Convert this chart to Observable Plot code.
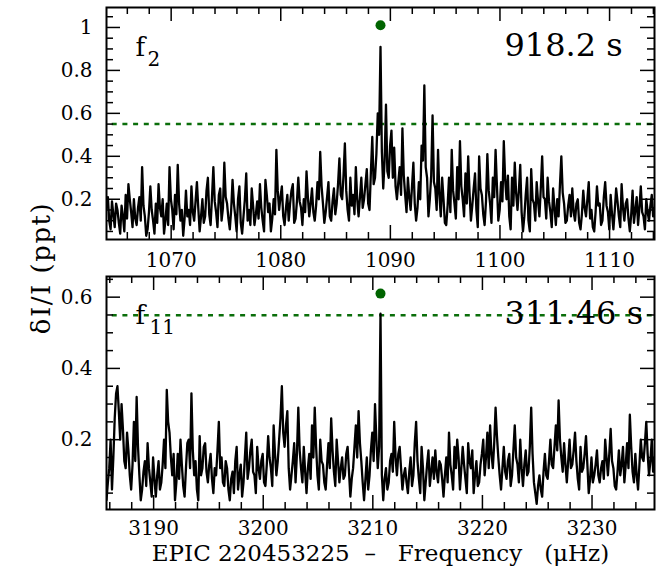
<!DOCTYPE html>
<html><head><meta charset="utf-8">
<script src="https://cdn.jsdelivr.net/npm/d3@7"></script>
<script src="https://cdn.jsdelivr.net/npm/@observablehq/plot@0.6"></script>
<style>
body{margin:0;background:#fff;}
#wrap{position:relative;width:668px;height:576px;font-family:"DejaVu Serif";color:#000;}
#p1,#p2{position:absolute;left:0;}
#p1{top:0}
#p2{top:270px}
#ylab{position:absolute;left:41px;top:268px;transform:translate(-50%,-50%) rotate(-90deg);font-size:26px;letter-spacing:1.5px;white-space:pre;}
</style></head><body>
<div id="wrap"><div id="p1"></div><div id="p2"></div><div id="ylab"></div></div>
<script>
// ---- data ----
const yTitle = "δI/I\u00a0(ppt)";
const xTitle = "EPIC 220453225\u00a0\u00a0–\u00a0\u00a0\u00a0Frequency\u00a0\u00a0\u00a0(μHz)";
const modeName = ["f", "f"];
const modeSub = ["2", "11"];
const periodLabel = ["918.2 s", "311.46 s"];
const freqStep = 0.125;
const freqStart = [1064.1, 3185.7];
const xDomain = [[1064.1, 1114.1], [3185.7, 3235.7]];
const yDomain = [[0.0125, 1.093], [0.004, 0.658]];
const threshold = [0.551, 0.549];
const peakFreq = [1089.1, 3210.7];
const peakMark = [1.01, 0.61];

const ampTop = [
0.16,0.21,0.10,0.06,0.19,0.13,0.07,0.18,0.15,0.09,0.04,0.17,0.12,0.05,0.22,0.11,0.27,0.20,0.14,0.07,
0.20,0.11,0.08,0.16,0.21,0.10,0.35,0.17,0.12,0.03,0.06,0.14,0.26,0.15,0.10,0.04,0.18,0.09,0.27,0.16,
0.12,0.20,0.04,0.10,0.18,0.08,0.35,0.20,0.15,0.06,0.22,0.13,0.36,0.18,0.10,0.15,0.03,0.11,0.24,0.12,
0.15,0.08,0.26,0.14,0.10,0.19,0.28,0.16,0.05,0.12,0.20,0.09,0.12,0.24,0.30,0.13,0.08,0.21,0.35,0.19,
0.14,0.07,0.22,0.25,0.10,0.16,0.37,0.21,0.18,0.11,0.06,0.15,0.29,0.18,0.12,0.05,0.20,0.26,0.09,0.04,
0.12,0.20,0.32,0.10,0.15,0.08,0.25,0.17,0.08,0.13,0.19,0.11,0.27,0.16,0.10,0.05,0.29,0.22,0.14,0.18,
0.05,0.11,0.20,0.13,0.43,0.24,0.15,0.21,0.26,0.12,0.08,0.16,0.22,0.10,0.18,0.24,0.27,0.09,0.11,0.19,
0.30,0.19,0.16,0.08,0.20,0.14,0.33,0.21,0.12,0.18,0.25,0.14,0.10,0.17,0.28,0.20,0.42,0.26,0.18,0.09,
0.14,0.21,0.28,0.12,0.10,0.19,0.25,0.13,0.18,0.27,0.39,0.22,0.20,0.31,0.46,0.24,0.15,0.10,0.30,0.17,
0.22,0.13,0.35,0.20,0.12,0.21,0.30,0.16,0.20,0.27,0.34,0.18,0.15,0.33,0.49,0.27,0.30,0.41,0.60,0.50,
0.91,0.42,
0.25,0.38,0.64,0.33,0.30,0.45,0.52,0.30,0.44,0.26,0.20,0.28,0.35,0.22,0.53,0.31,0.22,0.14,
0.30,0.21,0.15,0.26,0.37,0.18,0.10,0.16,0.28,0.20,0.45,0.38,0.73,0.35,0.30,0.12,0.20,0.31,0.59,0.28,
0.25,0.15,0.43,0.22,0.12,0.30,0.20,0.09,0.08,0.17,0.30,0.14,0.43,0.24,0.18,0.11,0.35,0.20,0.47,0.26,
0.20,0.12,0.32,0.18,0.40,0.23,0.10,0.17,0.25,0.32,0.15,0.07,0.40,0.25,0.22,0.13,0.08,0.19,0.41,0.24,
0.18,0.09,0.30,0.21,0.43,0.26,0.10,0.15,0.28,0.19,0.47,0.29,0.20,0.31,0.12,0.06,0.30,0.17,0.37,0.23,
0.15,0.24,0.36,0.14,0.05,0.12,0.22,0.30,0.10,0.05,0.34,0.20,0.18,0.10,0.28,0.19,0.12,0.25,0.40,0.21,
0.20,0.11,0.30,0.19,0.14,0.07,0.25,0.16,0.08,0.20,0.12,0.27,0.40,0.23,0.18,0.09,0.10,0.17,0.22,0.12,
0.25,0.14,0.10,0.18,0.20,0.09,0.06,0.13,0.24,0.16,0.12,0.20,0.28,0.11,0.15,0.07,0.05,0.14,0.26,0.17,
0.18,0.08,0.10,0.21,0.28,0.17,0.14,0.06,0.22,0.13,0.06,0.15,0.25,0.19,0.12,0.07,0.27,0.16,0.10,0.18,
0.20,0.11,0.05,0.13,0.24,0.09,0.15,0.21,0.08,0.16,0.26,0.14,0.12,0.06,0.20,0.14,0.10,0.17,0.22,0.12,
0.16
];
const ampBottom = [
0.03,0.08,0.12,0.20,0.06,0.15,0.26,0.33,0.35,0.28,0.20,0.30,0.23,0.14,0.12,0.22,0.17,0.10,0.06,0.13,
0.25,0.14,0.32,0.18,0.10,0.03,0.06,0.11,0.14,0.07,0.19,0.12,0.08,0.04,0.15,0.09,0.04,0.10,0.14,0.06,
0.08,0.13,0.20,0.12,0.34,0.25,0.22,0.15,0.10,0.16,0.03,0.08,0.16,0.09,0.20,0.13,0.07,0.04,0.12,0.19,
0.20,0.12,0.33,0.17,0.10,0.14,0.06,0.03,0.21,0.10,0.12,0.18,0.19,0.11,0.08,0.13,0.16,0.09,0.05,0.12,
0.10,0.17,0.25,0.12,0.15,0.08,0.07,0.14,0.12,0.06,0.03,0.09,0.11,0.05,0.14,0.18,0.06,0.10,0.13,0.04,
0.08,0.15,0.22,0.09,0.12,0.17,0.20,0.11,0.10,0.05,0.18,0.12,0.09,0.14,0.16,0.08,0.07,0.13,0.21,0.15,
0.12,0.07,0.24,0.16,0.10,0.14,0.20,0.26,0.35,0.22,0.18,0.24,0.28,0.12,0.06,0.10,0.14,0.19,0.08,0.16,
0.29,0.17,0.12,0.08,0.18,0.11,0.05,0.12,0.16,0.09,0.24,0.15,0.29,0.18,0.10,0.06,0.20,0.14,0.13,0.08,
0.06,0.13,0.19,0.12,0.26,0.17,0.11,0.07,0.20,0.14,0.08,0.12,0.15,0.09,0.10,0.16,0.18,0.11,0.04,0.09,
0.12,0.18,0.24,0.15,0.28,0.19,0.14,0.08,0.03,0.09,0.15,0.06,0.10,0.17,0.22,0.14,0.30,0.20,0.12,0.18,
0.554,0.10,
0.03,0.09,0.12,0.06,0.08,0.14,0.16,0.11,0.25,0.15,0.10,0.16,0.18,0.12,0.06,0.10,0.12,0.08,
0.05,0.11,0.15,0.07,0.10,0.19,0.25,0.14,0.09,0.05,0.18,0.12,0.03,0.08,0.13,0.17,0.07,0.11,0.15,0.09,
0.17,0.11,0.08,0.14,0.13,0.09,0.04,0.10,0.15,0.08,0.22,0.13,0.10,0.06,0.18,0.12,0.20,0.15,0.06,0.12,
0.18,0.13,0.09,0.05,0.19,0.14,0.12,0.17,0.05,0.10,0.14,0.07,0.08,0.13,0.16,0.20,0.10,0.15,0.22,0.12,
0.24,0.16,0.12,0.19,0.29,0.21,0.15,0.10,0.06,0.12,0.18,0.11,0.09,0.14,0.16,0.07,0.10,0.17,0.24,0.15,
0.13,0.08,0.20,0.12,0.07,0.13,0.17,0.10,0.11,0.18,0.29,0.16,0.08,0.05,0.02,0.07,0.10,0.06,0.04,0.11,
0.16,0.10,0.09,0.14,0.20,0.13,0.12,0.18,0.24,0.17,0.31,0.20,0.15,0.11,0.19,0.13,0.08,0.14,0.20,0.12,
0.13,0.17,0.22,0.14,0.09,0.06,0.18,0.11,0.12,0.16,0.21,0.13,0.05,0.09,0.15,0.08,0.10,0.13,0.17,0.10,
0.08,0.12,0.14,0.09,0.20,0.15,0.10,0.16,0.23,0.14,0.12,0.07,0.06,0.11,0.17,0.10,0.13,0.18,0.08,0.13,
0.19,0.12,0.27,0.18,0.11,0.08,0.16,0.10,0.06,0.13,0.20,0.15,0.14,0.19,0.25,0.16,0.10,0.14,0.20,0.11,
0.15
];

const xMajor = [[1070,1080,1090,1100,1110],[3190,3200,3210,3220,3230]];
const xMinor = [
 [1066,1068,1072,1074,1076,1078,1082,1084,1086,1088,1092,1094,1096,1098,1102,1104,1106,1108,1112,1114],
 [3186,3188,3192,3194,3196,3198,3202,3204,3206,3208,3212,3214,3216,3218,3222,3224,3226,3228,3232,3234]
];
const yMajor = [[0.2,0.4,0.6,0.8,1],[0.2,0.4,0.6]];
const yMinor = [
 [0.05,0.1,0.15,0.25,0.3,0.35,0.45,0.5,0.55,0.65,0.7,0.75,0.85,0.9,0.95,1.05],
 [0.05,0.1,0.15,0.25,0.3,0.35,0.45,0.5,0.55,0.65]
];

// ---- drawing ----
const green = "#0a6e0a";
const dotGreen = "#006400";
const W = 668, ML = 106, MR = 14;
function panel(k, amps, height, mTop, mBottom, labelPad, extra) {
  const series = amps.map((a, i) => ({f: freqStart[k] + i * freqStep, a}));
  const [y0, y1] = yDomain[k];
  const fh = height - mTop - mBottom;
  const yLen = px => y0 + px * (y1 - y0) / fh;       // tick length in pixels -> data units from the bottom edge
  const yLenTop = px => y1 - px * (y1 - y0) / fh;
  const tk = {stroke: "black", strokeWidth: 1.5};
  const ticks = (xs, ys, len) => [
    Plot.ruleX(xs, {...tk, x: d => d, y1: y0, y2: yLen(len)}),
    Plot.ruleX(xs, {...tk, x: d => d, y1: yLenTop(len), y2: y1}),
    Plot.tickY(ys, {...tk, y: d => d, insetRight: W - ML - MR - len}),
    Plot.tickY(ys, {...tk, y: d => d, insetLeft: W - ML - MR - len})
  ];
  const marks = [
    Plot.ruleY([threshold[k]], {stroke: green, strokeWidth: 2.5, strokeDasharray: "5,5.7", strokeDashoffset: 5}),
    Plot.line(series, {x: "f", y: "a", stroke: "black", strokeWidth: 2.3, clip: true}),
    Plot.dot([{f: peakFreq[k], a: peakMark[k]}], {x: "f", y: "a", r: 5, fill: dotGreen, stroke: null}),
    ...ticks(xMinor[k], yMinor[k], 7),
    ...ticks(xMajor[k], yMajor[k], 14),
    Plot.frame({stroke: "black", strokeWidth: 2}),
    Plot.axisX(xMajor[k], {anchor: "bottom", tickSize: 0, tickPadding: labelPad, label: null, fontSize: 20, tickFormat: d => String(d)}),
    Plot.axisY(yMajor[k], {anchor: "left", tickSize: 0, tickPadding: 14, label: null, fontSize: 20, tickFormat: d => String(d)}),
    Plot.text([modeName[k]], {text: d => d, frameAnchor: "top-left", dx: 29, dy: k ? 47 : 48, lineAnchor: "bottom", textAnchor: "start", fontSize: 26}),
    Plot.text([modeSub[k]], {text: d => d, frameAnchor: "top-left", dx: k ? 43 : 41, dy: k ? 57 : 58, lineAnchor: "bottom", textAnchor: "start", fontSize: 20}),
    Plot.text([periodLabel[k]], {text: d => d, frameAnchor: "top-left", dx: 398, dy: k ? 47 : 48, lineAnchor: "bottom", textAnchor: "start", fontSize: 32}),
    ...extra
  ];
  return Plot.plot({
    width: W, height,
    marginTop: mTop, marginBottom: mBottom, marginLeft: ML, marginRight: MR,
    x: {domain: xDomain[k]},
    y: {domain: yDomain[k]},
    style: {fontFamily: "DejaVu Serif", fontSize: "20px", background: "transparent", color: "black", overflow: "visible"},
    marks
  });
}
document.getElementById("p1").append(panel(0, ampTop, 270, 7, 31, 13, []));
document.getElementById("p2").append(panel(1, ampBottom, 300, 6, 61, 11, [
  Plot.text([xTitle], {text: d => d, frameAnchor: "bottom", dy: 51, lineAnchor: "bottom", fontSize: 23})
]));
document.getElementById("ylab").textContent = yTitle;
</script>
</body></html>
